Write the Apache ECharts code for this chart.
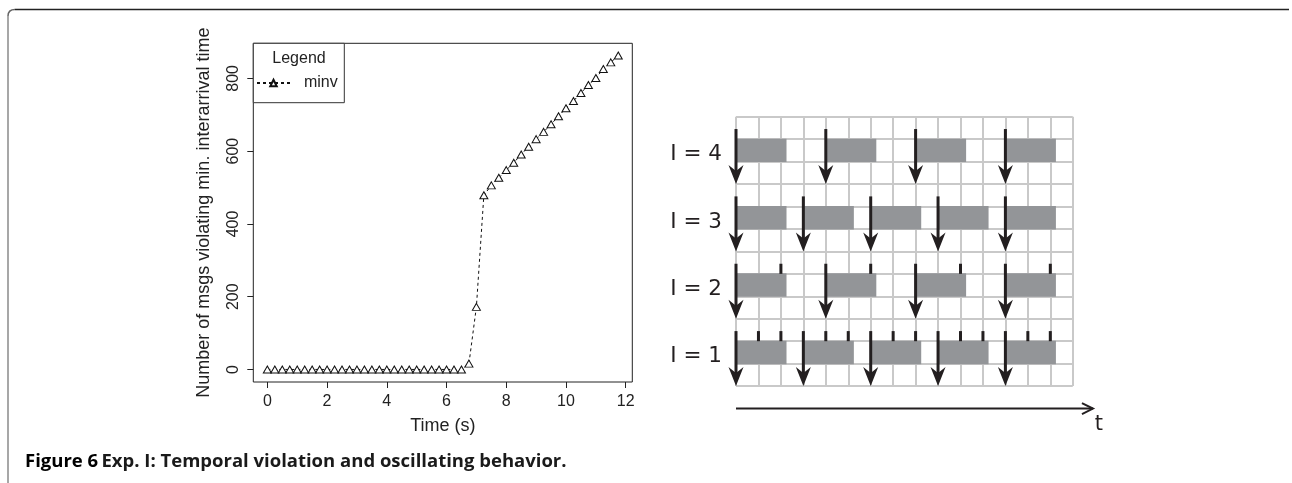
<!DOCTYPE html>
<html>
<head>
<meta charset="utf-8">
<script src="https://cdn.jsdelivr.net/npm/echarts@6/dist/echarts.min.js"></script>
<style>
html,body{margin:0;padding:0;background:#fff;}
#chart{width:1292px;height:483px;}
</style>
</head>
<body>
<div id="chart"></div>
<script>
// ---------- Left plot data ----------
const timeS = [0, 0.25, 0.5, 0.75, 1, 1.25, 1.5, 1.75, 2, 2.25, 2.5, 2.75, 3, 3.25, 3.5, 3.75,
  4, 4.25, 4.5, 4.75, 5, 5.25, 5.5, 5.75, 6, 6.25, 6.5, 6.75, 7, 7.25, 7.5, 7.75,
  8, 8.25, 8.5, 8.75, 9, 9.25, 9.5, 9.75, 10, 10.25, 10.5, 10.75, 11, 11.25, 11.5, 11.75];
const minvCounts = [0, 0, 0, 0, 0, 0, 0, 0, 0, 0, 0, 0, 0, 0, 0, 0,
  0, 0, 0, 0, 0, 0, 0, 0, 0, 0, 0, 16, 172, 479, 506, 527,
  548, 568, 591, 612, 633, 653, 674, 696, 718, 738, 760, 782, 801, 826, 844, 863];
const xTicks = [0, 2, 4, 6, 8, 10, 12];
const yTicks = [0, 200, 400, 600, 800];
const seriesName = 'minv';
const legendTitle = 'Legend';
const xAxisTitle = 'Time (s)';
const yAxisTitle = 'Number of msgs violating min. interarrival time';

// ---------- Right diagram data ----------
const levelLabels = ['I = 4', 'I = 3', 'I = 2', 'I = 1'];
const acceptedTimes = [
  [0, 4, 8, 12],
  [0, 3, 6, 9, 12],
  [0, 4, 8, 12],
  [0, 3, 6, 9, 12]
];
const droppedTimes = [
  [],
  [],
  [2, 6, 10, 14],
  [1, 2, 4, 5, 7, 8, 10, 11, 13, 14]
];
const execDuration = 2.25;
const timeAxisEnd = 15.9;
const timeAxisLabel = 't';
const captionBold = 'Figure 6';
const captionText = 'Exp. I: Temporal violation and oscillating behavior.';

// ---------- build ----------
const linePoints = timeS.map((t, i) => [t, minvCounts[i]]);
const arrowData = [], barData = [], tickData = [];
acceptedTimes.forEach((arr, k) => arr.forEach(t => { arrowData.push([t, k]); barData.push([t, k]); }));
droppedTimes.forEach((arr, k) => arr.forEach(t => tickData.push([t, k])));
const labelData = levelLabels.map((s, k) => [0, k, s]);

const INK = '#231f20';
const PLOT_FONT = 'Liberation Sans';
const chart = echarts.init(document.getElementById('chart'), null, {renderer: 'canvas'});

function blockRow(k) { return k * 3; }

const option = {
  animation: false,
  backgroundColor: '#fff',
  grid: [
    {left: 253.3, top: 43.3, width: 379, height: 338.7, show: true, borderColor: '#222', borderWidth: 1, backgroundColor: 'transparent'},
    {left: 736, top: 116.7, width: 336.75, height: 269.4, show: false}
  ],
  xAxis: [
    {
      gridIndex: 0, type: 'value', min: -0.47, max: 12.22,
      name: xAxisTitle, nameLocation: 'middle', nameGap: 35,
      nameTextStyle: {fontFamily: PLOT_FONT, fontSize: 18, color: '#222'},
      axisLine: {show: false, onZero: false},
      splitLine: {show: false},
      axisTick: {show: true, customValues: xTicks, length: 6, lineStyle: {color: '#222'}},
      axisLabel: {customValues: xTicks, margin: 12, fontFamily: PLOT_FONT, fontSize: 16, color: '#222'}
    },
    {
      gridIndex: 1, type: 'value', min: 0, max: 15, interval: 1,
      axisLine: {show: false, onZero: false}, axisTick: {show: false}, axisLabel: {show: false},
      splitLine: {show: true, showMinLine: true, showMaxLine: true, lineStyle: {color: '#c9c9c9', width: 2}}
    }
  ],
  yAxis: [
    {
      gridIndex: 0, type: 'value', min: -34.5, max: 896.5,
      name: yAxisTitle, nameLocation: 'middle', nameGap: 40, nameRotate: 90,
      nameTextStyle: {fontFamily: PLOT_FONT, fontSize: 18, color: '#222'},
      axisLine: {show: false, onZero: false},
      splitLine: {show: false},
      axisTick: {show: true, customValues: yTicks, length: 6, lineStyle: {color: '#222'}},
      axisLabel: {customValues: yTicks, rotate: 90, margin: 12, fontFamily: PLOT_FONT, fontSize: 16, color: '#222'}
    },
    {
      gridIndex: 1, type: 'value', min: 0, max: 12, interval: 1, inverse: true,
      axisLine: {show: false, onZero: false}, axisTick: {show: false}, axisLabel: {show: false},
      splitLine: {show: true, showMinLine: true, showMaxLine: true, lineStyle: {color: '#c9c9c9', width: 2}}
    }
  ],
  legend: {
    show: true, left: 256, top: 75, padding: 0, z: 7,
    itemWidth: 33, itemHeight: 8, itemGap: 0,
    formatter: function (n) { return '  ' + n; },
    textStyle: {fontFamily: PLOT_FONT, fontSize: 16, color: '#222'},
    data: [seriesName]
  },
  graphic: [
    // figure frame
    {type: 'line', silent: true, shape: {x1: 8, y1: 483, x2: 8, y2: 16}, style: {stroke: '#8a8a8a', lineWidth: 1.5}},
    {type: 'bezierCurve', silent: true, shape: {x1: 8, y1: 16, cpx1: 8, cpy1: 9.5, x2: 15, y2: 9.5}, style: {stroke: '#666', lineWidth: 1.5, fill: null}},
    {type: 'line', silent: true, shape: {x1: 15, y1: 9.5, x2: 1289, y2: 9.5}, style: {stroke: '#222', lineWidth: 1.5}},
    // legend box
    {type: 'rect', silent: true, z: 5, shape: {x: 253.3, y: 43.3, width: 91, height: 59.4}, style: {fill: '#fff', stroke: '#333', lineWidth: 1}},
    {type: 'text', silent: true, z: 6, style: {text: legendTitle, x: 299, y: 58.5, align: 'center', verticalAlign: 'middle', fontFamily: PLOT_FONT, fontSize: 16, fill: '#222'}},
    // caption
    {type: 'text', silent: true, style: {
      x: 25, y: 462, verticalAlign: 'middle',
      text: '{b|' + captionBold + '} {n|' + captionText + '}',
      rich: {
        b: {fontFamily: 'Open Sans', fontWeight: 'bold', fontSize: 18.5, fill: '#000'},
        n: {fontFamily: 'Open Sans', fontWeight: 'bold', fontSize: 18.5, fill: '#1a1a1a'}
      }
    }}
  ],
  series: [
    {
      name: seriesName, type: 'line', xAxisIndex: 0, yAxisIndex: 0,
      data: linePoints, symbol: 'triangle', symbolSize: [8, 7], showSymbol: true,
      itemStyle: {color: '#fff', borderColor: '#111', borderWidth: 1},
      lineStyle: {color: '#111', width: 1, type: [3, 3]},
      z: 3
    },
    {
      type: 'custom', xAxisIndex: 1, yAxisIndex: 1, data: barData, z: 2,
      renderItem: function (params, api) {
        const t = api.value(0), b = blockRow(api.value(1));
        const p1 = api.coord([t, b + 1]);
        const p2 = api.coord([t + execDuration, b + 2]);
        return {type: 'rect', shape: {x: p1[0], y: p1[1] - 0.5, width: p2[0] - p1[0], height: p2[1] - p1[1] + 1}, style: {fill: '#939598'}};
      }
    },
    {
      type: 'custom', xAxisIndex: 1, yAxisIndex: 1, data: tickData, z: 3,
      renderItem: function (params, api) {
        const t = api.value(0), b = blockRow(api.value(1));
        const p1 = api.coord([t, b + 0.55]);
        const p2 = api.coord([t, b + 1]);
        return {type: 'line', shape: {x1: p1[0], y1: p1[1], x2: p2[0], y2: p2[1]}, style: {stroke: INK, lineWidth: 3}};
      }
    },
    {
      type: 'custom', xAxisIndex: 1, yAxisIndex: 1, data: arrowData, z: 4,
      renderItem: function (params, api) {
        const t = api.value(0), b = blockRow(api.value(1));
        const top = api.coord([t, b + 0.55]);
        const tip = api.coord([t, b + 3]);
        return {type: 'group', children: [
          {type: 'line', shape: {x1: top[0], y1: top[1], x2: tip[0], y2: tip[1] - 12}, style: {stroke: INK, lineWidth: 3}},
          {type: 'polygon', shape: {points: [[tip[0], tip[1]], [tip[0] - 7.5, tip[1] - 19], [tip[0], tip[1] - 13], [tip[0] + 7.5, tip[1] - 19]]}, style: {fill: INK}}
        ]};
      }
    },
    {
      type: 'custom', xAxisIndex: 1, yAxisIndex: 1, data: labelData, z: 4,
      renderItem: function (params, api) {
        const b = blockRow(api.value(1));
        const p = api.coord([0, b + 1.7]);
        return {type: 'text', style: {text: labelData[params.dataIndex][2], x: p[0] - 14, y: p[1], align: 'right', verticalAlign: 'middle', fontFamily: 'DejaVu Sans', fontSize: 21.5, fill: INK}};
      }
    },
    {
      type: 'custom', xAxisIndex: 1, yAxisIndex: 1, data: [[0, timeAxisEnd]], z: 4,
      renderItem: function (params, api) {
        const a = api.coord([api.value(0), 13]);
        const e = api.coord([api.value(1), 13]);
        return {type: 'group', children: [
          {type: 'line', shape: {x1: a[0], y1: a[1], x2: e[0], y2: e[1]}, style: {stroke: INK, lineWidth: 2}},
          {type: 'polyline', shape: {points: [[e[0] - 11, e[1] - 5.5], [e[0], e[1]], [e[0] - 11, e[1] + 5.5]]}, style: {stroke: INK, lineWidth: 2, fill: null}},
          {type: 'text', style: {text: timeAxisLabel, x: e[0] + 6, y: e[1] + 16, align: 'center', verticalAlign: 'middle', fontFamily: 'DejaVu Sans', fontSize: 21, fill: INK}}
        ]};
      }
    }
  ]
};
chart.setOption(option);
</script>
</body>
</html>
